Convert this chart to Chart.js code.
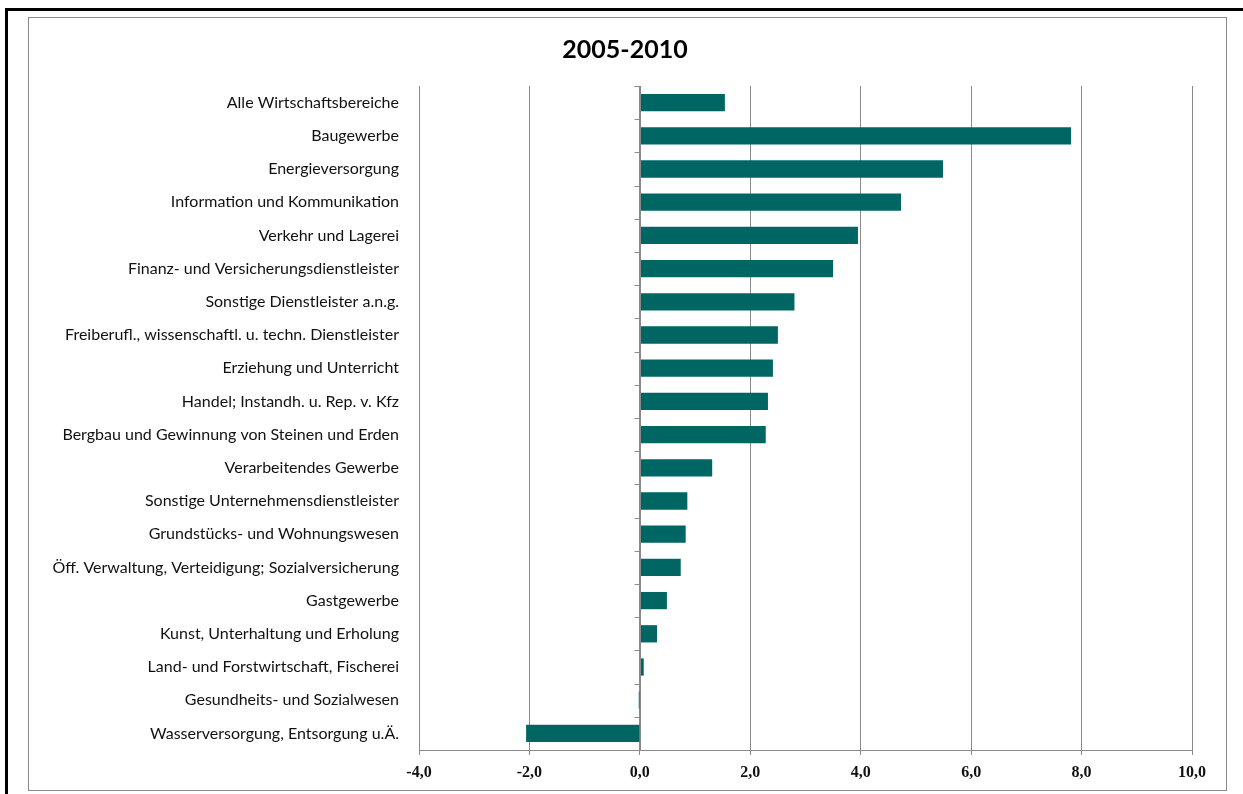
<!DOCTYPE html>
<html>
<head>
<meta charset="utf-8">
<script src="https://cdn.jsdelivr.net/npm/chart.js@4.4.0/dist/chart.umd.min.js"></script>
<style>
  html, body { margin: 0; padding: 0; background: #fff; width: 1243px; height: 794px; overflow: hidden; }
  #outer { position: absolute; left: 5px; top: 8px; width: 1300px; height: 900px; border-left: 3px solid #000; border-top: 3px solid #000; }
  #inner { position: absolute; left: 28px; top: 17px; width: 1197px; height: 772px; border: 1px solid #8a8a8a; }
  canvas { position: absolute; left: 0; top: 0; }
</style>
</head>
<body>
<div id="outer"></div>
<div id="inner"></div>
<canvas id="c" width="1243" height="794"></canvas>
<script>
const categories = [
  "Alle Wirtschaftsbereiche",
  "Baugewerbe",
  "Energieversorgung",
  "Information und Kommunikation",
  "Verkehr und Lagerei",
  "Finanz- und Versicherungsdienstleister",
  "Sonstige Dienstleister a.n.g.",
  "Freiberufl., wissenschaftl. u. techn. Dienstleister",
  "Erziehung und Unterricht",
  "Handel; Instandh. u. Rep. v. Kfz",
  "Bergbau und Gewinnung von Steinen und Erden",
  "Verarbeitendes Gewerbe",
  "Sonstige Unternehmensdienstleister",
  "Grundstücks- und Wohnungswesen",
  "Öff. Verwaltung, Verteidigung; Sozialversicherung",
  "Gastgewerbe",
  "Kunst, Unterhaltung und Erholung",
  "Land- und Forstwirtschaft, Fischerei",
  "Gesundheits- und Sozialwesen",
  "Wasserversorgung, Entsorgung u.Ä."
];
const values = [1.54, 7.81, 5.49, 4.73, 3.95, 3.50, 2.80, 2.50, 2.41, 2.32, 2.28, 1.31, 0.86, 0.83, 0.74, 0.49, 0.31, 0.07, -0.02, -2.06];
const xMin = -4, xMax = 10, xStep = 2;
const titleText = "2005-2010";

const zeroAxis = {
  id: 'zeroAxis',
  afterDatasetsDraw(chart) {
    const ctx = chart.ctx, x = chart.scales.x, y = chart.scales.y;
    const px = Math.round(x.getPixelForValue(0)) + 0.5;
    ctx.save();
    ctx.strokeStyle = '#8a8a8a';
    ctx.lineWidth = 1;
    ctx.beginPath();
    ctx.moveTo(px, y.top); ctx.lineTo(px, y.bottom);
    const n = categories.length;
    for (let i = 0; i <= n; i++) {
      const yy = Math.round(y.top + (y.bottom - y.top) * i / n) + 0.5;
      ctx.moveTo(px - 6, yy); ctx.lineTo(px, yy);
    }
    ctx.stroke();
    ctx.restore();
  }
};

new Chart(document.getElementById('c'), {
  type: 'bar',
  data: {
    labels: categories,
    datasets: [{
      data: values,
      backgroundColor: '#006663',
      borderWidth: 0,
      categoryPercentage: 1.0,
      barPercentage: 0.52
    }]
  },
  options: {
    indexAxis: 'y',
    responsive: false,
    animation: false,
    layout: { padding: { left: 7, right: 0, top: 31, bottom: 8 } },
    plugins: {
      legend: { display: false },
      tooltip: { enabled: false },
      title: {
        display: true,
        text: titleText,
        color: '#000',
        font: { family: 'Lato', size: 25, weight: 'bold' },
        padding: { top: 4, bottom: 21 }
      }
    },
    scales: {
      x: {
        min: xMin, max: xMax,
        ticks: {
          stepSize: xStep,
          color: '#111',
          padding: 8,
          font: { family: 'Liberation Serif', size: 16, weight: 'bold' },
          callback: v => v.toFixed(1).replace('.', ',')
        },
        grid: { color: '#8a8a8a', lineWidth: 1, drawTicks: true, tickLength: 5 },
        border: { display: true, color: '#8a8a8a' },
        afterFit(s) { s.height = 36; }
      },
      y: {
        ticks: {
          color: '#111',
          padding: 20,
          font: { family: 'Lato', size: 16 },
          autoSkip: false
        },
        grid: { display: false, drawTicks: false },
        border: { display: false },
        afterFit(s) { s.width = 412; }
      },
      yRight: {
        type: 'category',
        position: 'right',
        labels: categories,
        ticks: { display: false },
        grid: { display: false, drawTicks: false },
        border: { display: false },
        afterFit(s) { s.width = 51; }
      }
    }
  },
  plugins: [zeroAxis]
});
</script>
</body>
</html>
